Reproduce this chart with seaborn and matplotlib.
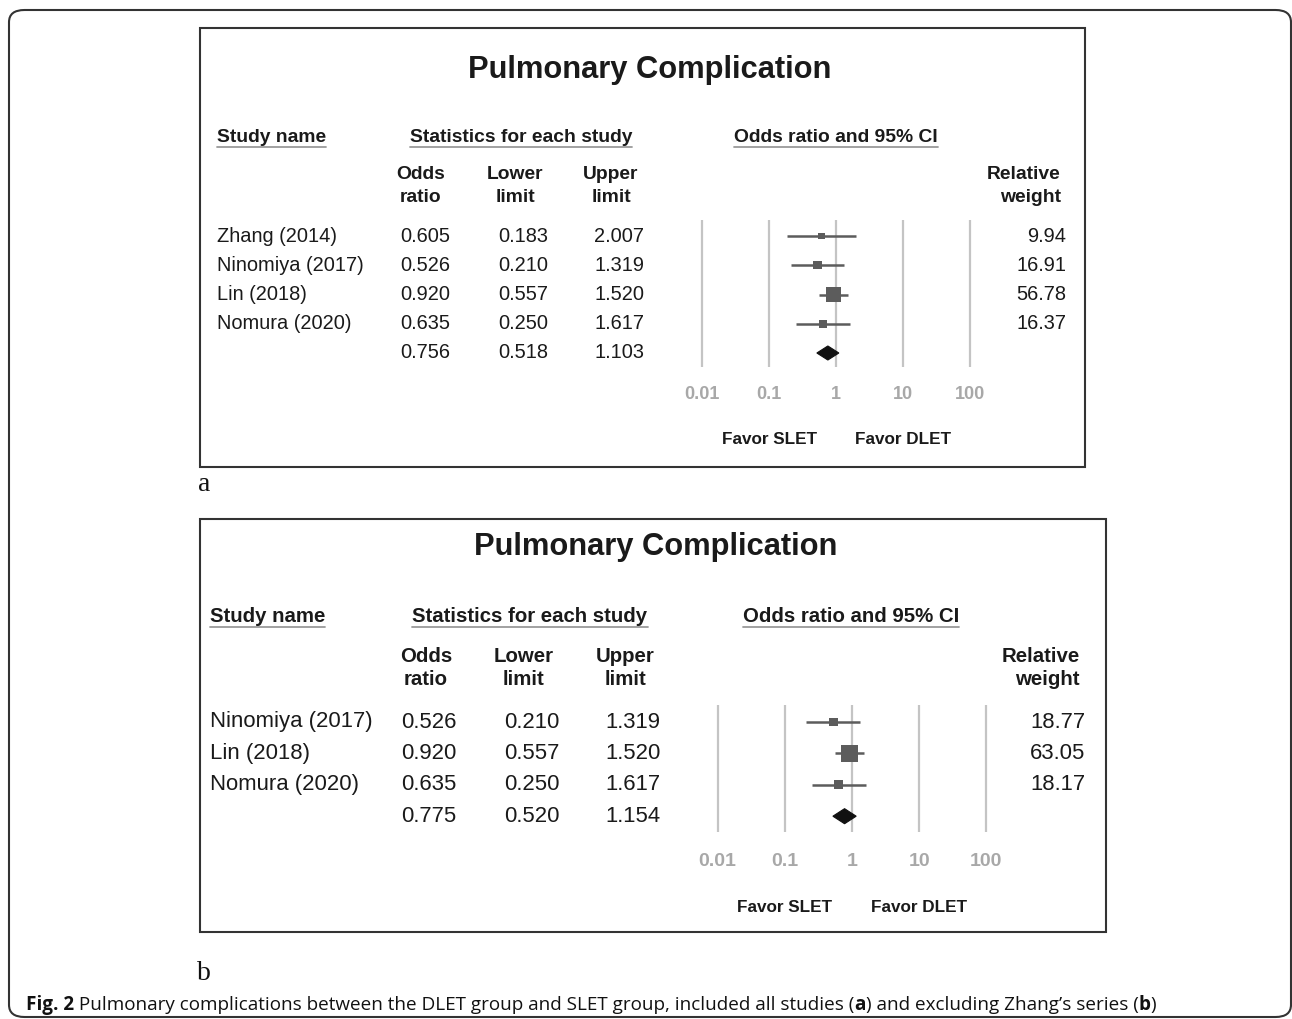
import numpy as np
import pandas as pd
import matplotlib
matplotlib.use("Agg")
import matplotlib.pyplot as plt
import seaborn as sns
from matplotlib.patches import FancyBboxPatch, Rectangle, Polygon
from matplotlib.lines import Line2D
from matplotlib.transforms import blended_transform_factory

# ---------------- data ----------------
title = "Pulmonary Complication"
studies_a = ["Zhang (2014)", "Ninomiya (2017)", "Lin (2018)", "Nomura (2020)"]
or_a = [0.605, 0.526, 0.920, 0.635]
lo_a = [0.183, 0.210, 0.557, 0.250]
hi_a = [2.007, 1.319, 1.520, 1.617]
wt_a = [9.94, 16.91, 56.78, 16.37]
sum_a = [0.756, 0.518, 1.103]

studies_b = ["Ninomiya (2017)", "Lin (2018)", "Nomura (2020)"]
or_b = [0.526, 0.920, 0.635]
lo_b = [0.210, 0.557, 0.250]
hi_b = [1.319, 1.520, 1.617]
wt_b = [18.77, 63.05, 18.17]
sum_b = [0.775, 0.520, 1.154]

tick_values = [0.01, 0.1, 1, 10, 100]
tick_labels = ["0.01", "0.1", "1", "10", "100"]
favor_labels = ["Favor SLET", "Favor DLET"]
caption_pieces = [("Fig. 2", True),
                  (" Pulmonary complications between the DLET group and SLET group, "
                   "included all studies (", False),
                  ("a", True),
                  (") and excluding Zhang\u2019s series (", False),
                  ("b", True),
                  (")", False)]

# ---------------- figure ----------------
sns.set_theme(style="white")
plt.rcParams["font.family"] = ["Liberation Sans", "DejaVu Sans"]
W, H = 1292, 1019
fig = plt.figure(figsize=(W / 100, H / 100), dpi=100)
fig.patch.set_facecolor("white")
TXT = "#1a1a1a"


def fx(x):
    return x / W


def fy(y):
    return 1 - y / H


def ftext(x, y, s, **kw):
    kw.setdefault("color", TXT)
    kw.setdefault("va", "center")
    return fig.text(fx(x), fy(y), s, **kw)


renderer = fig.canvas.get_renderer()


def underline(t, y):
    bb = t.get_window_extent(renderer=renderer)
    fig.add_artist(Line2D([bb.x0 / W, bb.x1 / W], [fy(y), fy(y)],
                          transform=fig.transFigure, color="#9a9a9a", lw=1.3))


# outer frame
fig.add_artist(FancyBboxPatch((fx(9), fy(1017)), fx(1282), (1007) / H,
                              boxstyle="round,pad=0,rounding_size=0.012",
                              transform=fig.transFigure, fill=False,
                              edgecolor="#333333", lw=1.5))


def panel(studies, ors, los, his, wts, summ, L):
    # box
    fig.add_artist(Rectangle((fx(L["box"][0]), fy(L["box"][3])),
                             (L["box"][2] - L["box"][0]) / W,
                             (L["box"][3] - L["box"][1]) / H,
                             transform=fig.transFigure, fill=False,
                             edgecolor="#333333", lw=1.5))
    fs = L["fs"]
    hfs = L["hfs"]
    ftext(L["title_x"], L["title_y"], title, fontsize=22.2, fontweight="bold", ha="center")
    t1 = ftext(L["name_x"], L["hdr_y"], "Study name", fontsize=hfs, fontweight="bold", ha="left")
    t2 = ftext(L["stat_x"], L["hdr_y"], "Statistics for each study", fontsize=hfs,
               fontweight="bold", ha="center")
    t3 = ftext(L["ci_x"], L["hdr_y"], "Odds ratio and 95% CI", fontsize=hfs,
               fontweight="bold", ha="center")
    for t in (t1, t2, t3):
        underline(t, L["ul_y"])
    for hx, s in zip(L["col_hdr_x"], ["Odds\nratio", "Lower\nlimit", "Upper\nlimit"]):
        ftext(hx, L["sub_y"], s, fontsize=hfs, fontweight="bold", ha="center",
              linespacing=L["ls"])
    ftext(L["wt_x"] - 5, L["sub_y"], "Relative\nweight", fontsize=hfs, fontweight="bold",
          ha="right", multialignment="right", linespacing=L["ls"])

    n = len(studies)
    rows_y = [L["row0"] + i * L["dy"] for i in range(n + 1)]
    for i in range(n):
        ftext(L["name_x"], rows_y[i], studies[i], fontsize=fs, ha="left")
        for cx, v in zip(L["col_x"], [ors[i], los[i], his[i]]):
            ftext(cx, rows_y[i], f"{v:.3f}", fontsize=fs, ha="center")
        ftext(L["wt_x"], rows_y[i], f"{wts[i]:.2f}", fontsize=fs, ha="right")
    for cx, v in zip(L["col_x"], summ):
        ftext(cx, rows_y[n], f"{v:.3f}", fontsize=fs, ha="center")

    # forest axes
    one_x, dec = L["one_x"], L["dec"]
    left = one_x - 2.5 * dec
    top, bot = L["ax_top"], L["ax_bot"]
    ax = fig.add_axes([fx(left), fy(bot), 5 * dec / W, (bot - top) / H])
    ax.set_xscale("log")
    ax.set_xlim(10 ** -2.5, 10 ** 2.5)
    ax.set_ylim(n + (bot - rows_y[n]) / L["dy"], -(rows_y[0] - top) / L["dy"])
    for v in tick_values:
        ax.axvline(v, color="#c4c4c4", lw=1.6, zorder=0)
    df = pd.DataFrame({"OR": ors, "lo": los, "hi": his, "w": wts, "row": np.arange(n)})
    ax.hlines(df["row"], df["lo"], df["hi"], color="#5c5c5c", lw=1.8, zorder=2)
    sns.scatterplot(data=df, x="OR", y="row", size="w", sizes=(0, 218), size_norm=(0, 100),
                    marker="s", color="#5c5c5c", edgecolor="none", legend=False, ax=ax, zorder=3)
    h = L["dh"]
    ax.add_patch(Polygon([[summ[1], n], [summ[0], n - h], [summ[2], n], [summ[0], n + h]],
                         closed=True, facecolor="#111111", edgecolor="#111111", lw=0.8, zorder=3))
    ax.set_xticks(tick_values)
    ax.set_xticklabels(tick_labels)
    ax.minorticks_off()
    ax.tick_params(axis="x", length=0, pad=L["pad"], labelsize=L["tfs"], labelcolor="#a8a8a8")
    for lab in ax.get_xticklabels():
        lab.set_fontweight("bold")
    ax.set_yticks([])
    ax.set_xlabel("")
    ax.set_ylabel("")
    for sp in ax.spines.values():
        sp.set_visible(False)
    ax.patch.set_alpha(0)
    tr = blended_transform_factory(ax.transData, fig.transFigure)
    for v, s in zip([0.1, 10], favor_labels):
        ax.text(v, fy(L["favor_y"]), s, transform=tr, ha="center", va="center",
                fontsize=12.3, fontweight="bold", color=TXT)
    ftext(L["lab_x"], L["lab_y"], L["lab"], fontsize=20, family="Liberation Serif",
          ha="center", va="baseline", color="#111111")


LA = dict(box=(200, 28, 1085, 467), title_x=650, title_y=70, name_x=217, hdr_y=137, ul_y=147,
          stat_x=521, ci_x=836, sub_y=186, ls=1.42, col_hdr_x=(421, 515, 611),
          col_x=(425, 523, 619), wt_x=1066, row0=236, dy=29.25, fs=14.4, hfs=13.9,
          one_x=836, dec=67, ax_top=220, ax_bot=367, dh=0.24, pad=14, tfs=13,
          favor_y=440, lab_x=204, lab_y=491, lab="a")
LB = dict(box=(200, 519, 1106, 932), title_x=656, title_y=547, name_x=210, hdr_y=617, ul_y=627,
          stat_x=530, ci_x=851, sub_y=668, ls=1.27, col_hdr_x=(426, 524, 625),
          col_x=(429, 532, 633), wt_x=1085, row0=722, dy=31.4, fs=15.9, hfs=14.7,
          one_x=852, dec=67.2, ax_top=705, ax_bot=832, dh=0.24, pad=15, tfs=14,
          favor_y=908, lab_x=204, lab_y=980, lab="b")

panel(studies_a, or_a, lo_a, hi_a, wt_a, sum_a, LA)
panel(studies_b, or_b, lo_b, hi_b, wt_b, sum_b, LB)

# caption (bold / regular pieces laid out left to right)
cap_fs = 13.6
x = 26
for s, b in caption_pieces:
    t = fig.text(fx(x), fy(1010), s, fontsize=cap_fs, family=["Open Sans", "DejaVu Sans"],
                 fontweight="bold" if b else "normal", color="#111111", va="baseline", ha="left")
    bb = t.get_window_extent(renderer=renderer)
    x += bb.width

fig.savefig("out.png", dpi=100, facecolor="white")
